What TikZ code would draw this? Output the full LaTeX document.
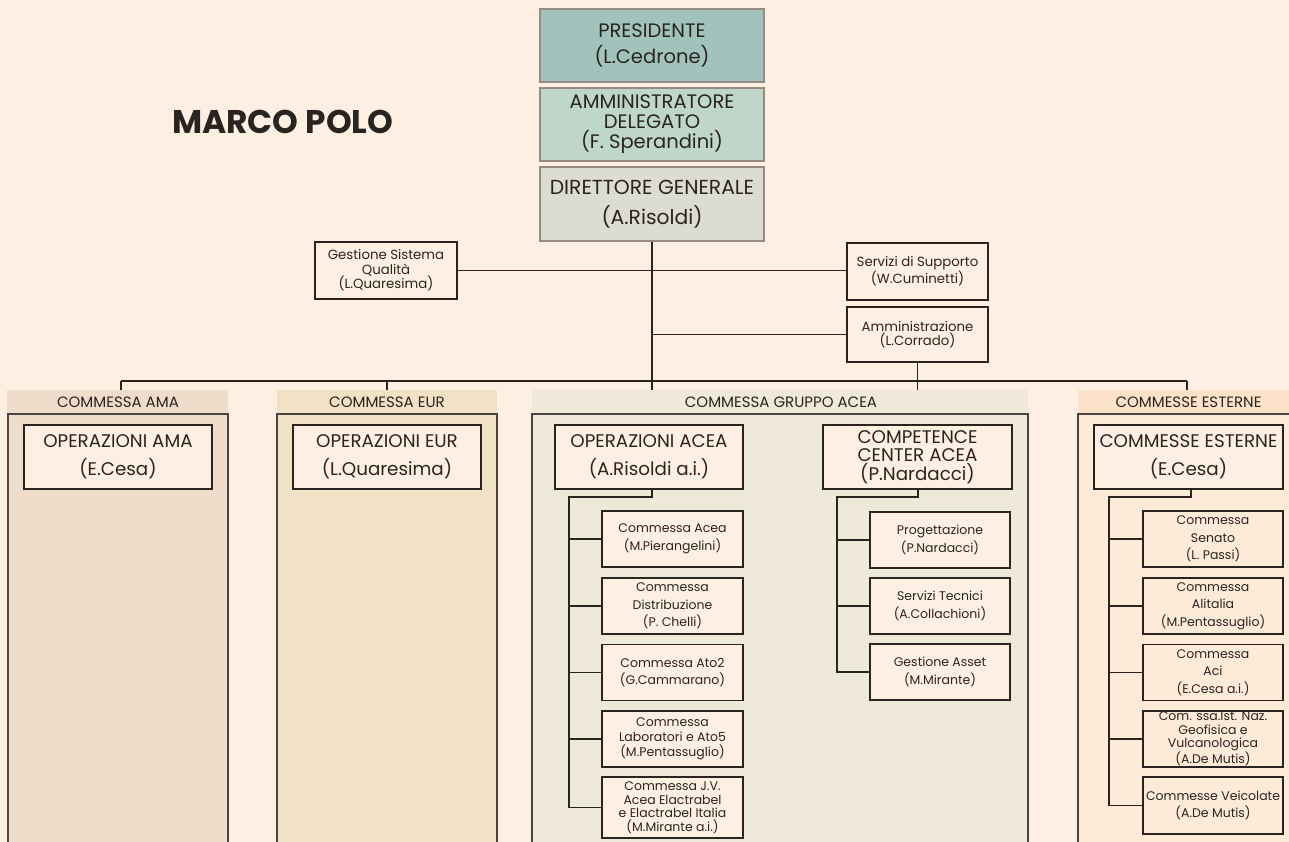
\documentclass[tikz,border=0pt]{standalone}
\usepackage{fontspec}
\setmainfont{Poppins}
\definecolor{bg}{HTML}{FDF0E2}
\definecolor{ink}{HTML}{2A2421}
\definecolor{topline}{HTML}{958B83}
\definecolor{presfill}{HTML}{A2C3BC}
\definecolor{adfill}{HTML}{BFD6CB}
\definecolor{dgfill}{HTML}{DDDCD2}
\definecolor{amafill}{HTML}{EFDCCA}
\definecolor{eurfill}{HTML}{F1E2C6}
\definecolor{aceafill}{HTML}{EFE9DA}
\definecolor{esthead}{HTML}{FCE2C8}
\definecolor{estfill}{HTML}{FDEBD8}
\begin{document}
\begin{tikzpicture}[x=1pt,y=-1pt,
  topbox/.style={draw=topline, line width=1.5pt, minimum width=224pt, minimum height=73pt, inner sep=0pt, align=center, text=ink, font=\fontsize{19.5}{26}\selectfont},
  staff/.style={draw=ink, line width=1.3pt, fill=bg, minimum width=141pt, minimum height=57pt, inner sep=0pt, align=center, text=ink, font=\fontsize{13.3}{14.5}\selectfont},
  colhead/.style={inner sep=0pt, minimum height=24pt, text=ink, font=\fontsize{15}{15}\selectfont},
  mainbox/.style={draw=ink, line width=1.3pt, fill=bg, minimum width=188pt, minimum height=64pt, inner sep=0pt, align=center, text=ink, font=\fontsize{18.3}{28}\selectfont},
  subbox/.style={draw=ink, line width=1.3pt, fill=bg, minimum width=141pt, minimum height=56pt, inner sep=0pt, align=center, text=ink, font=\fontsize{12.5}{17.5}\selectfont},
  wire/.style={draw=ink, line width=1.3pt},
  frame/.style={draw=ink!85, line width=1.5pt}]
\useasboundingbox (0,0) rectangle (1289,842);
\fill[bg] (0,0) rectangle (1289,842);

% title
\node[anchor=base west, inner sep=0pt, text=ink, font=\fontsize{32.8}{33}\bfseries] (title) at (172,134) {MARCO POLO};

% top boxes
\node[topbox, fill=presfill] (Pres) at (652,45.5) {PRESIDENTE\\(L.Cedrone)};
\node[topbox, fill=adfill, font=\fontsize{19.5}{20}\selectfont] (AD) at (652,124.5) {AMMINISTRATORE\\DELEGATO\\(F. Sperandini)};
\node[topbox, fill=dgfill, minimum height=74pt, font=\fontsize{20.3}{30}\selectfont] (DG) at (652,204) {DIRETTORE GENERALE\\(A.Risoldi)};

% staff
\node[staff, minimum width=142pt] (GSQ) at (386,270.5) {Gestione Sistema\\Qualità\\(L.Quaresima)};
\node[staff] (SdS) at (917.5,271.5) {Servizi di Supporto\\(W.Cuminetti)};
\node[staff, minimum height=55pt] (Amm) at (917.5,334.5) {Amministrazione\\(L.Corrado)};

% column panels
\fill[amafill] (7,390) rectangle (228,842);
\fill[eurfill] (277,390) rectangle (497,842);
\fill[aceafill] (532,390) rectangle (1028,842);
\fill[esthead] (1078,390) rectangle (1289,414);
\fill[estfill] (1078,414) rectangle (1289,842);
\draw[frame] (8,842) -- (8,414) -- (228,414) -- (228,842);
\draw[frame] (277,842) -- (277,414) -- (497,414) -- (497,842);
\draw[frame] (532,842) -- (532,414) -- (1028,414) -- (1028,842);
\draw[frame] (1078,842) -- (1078,414) -- (1292,414);

\node[colhead] (hAMA) at (118,402) {COMMESSA AMA};
\node[colhead] (hEUR) at (387,402) {COMMESSA EUR};
\node[colhead] (hACEA) at (781,402) {COMMESSA GRUPPO ACEA};
\node[colhead] (hCE) at (1188.5,402) {COMMESSE ESTERNE};

% main boxes
\node[mainbox] (OPAMA) at (118,457) {OPERAZIONI AMA\\(E.Cesa)};
\node[mainbox] (OPEUR) at (387,457) {OPERAZIONI EUR\\(L.Quaresima)};
\node[mainbox] (OPACEA) at (649,457) {OPERAZIONI ACEA\\(A.Risoldi a.i.)};
\node[mainbox, minimum width=189pt, font=\fontsize{18.3}{18.5}\selectfont] (CC) at (917.5,457) {COMPETENCE\\CENTER ACEA\\(P.Nardacci)};
\node[mainbox, minimum width=189pt] (CE) at (1188.5,457) {COMMESSE ESTERNE\\(E.Cesa)};

% ACEA operations
\node[subbox] (a1) at (672.5,539) {Commessa Acea\\(M.Pierangelini)};
\node[subbox] (a2) at (672.5,606) {Commessa\\Distribuzione\\(P. Chelli)};
\node[subbox] (a3) at (672.5,672.5) {Commessa Ato2\\(G.Cammarano)};
\node[subbox, font=\fontsize{12.5}{15}\selectfont] (a4) at (672.5,739) {Commessa\\Laboratori e Ato5\\(M.Pentassuglio)};
\node[subbox, minimum height=61pt, font=\fontsize{12.5}{13.5}\selectfont] (a5) at (672.5,807.5) {Commessa J.V.\\Acea Elactrabel\\e Elactrabel Italia\\(M.Mirante a.i.)};

% competence center
\node[subbox, minimum width=140pt] (c1) at (940,540) {Progettazione\\(P.Nardacci)};
\node[subbox, minimum width=140pt] (c2) at (940,606) {Servizi Tecnici\\(A.Collachioni)};
\node[subbox, minimum width=140pt] (c3) at (940,672) {Gestione Asset\\(M.Mirante)};

% external
\node[subbox, fill=estfill, minimum width=140pt] (e1) at (1213,539) {Commessa\\Senato\\(L. Passi)};
\node[subbox, fill=estfill, minimum width=140pt] (e2) at (1213,606) {Commessa\\Alitalia\\(M.Pentassuglio)};
\node[subbox, fill=estfill, minimum width=140pt] (e3) at (1213,672.5) {Commessa\\Aci\\(E.Cesa a.i.)};
\node[subbox, fill=estfill, minimum width=140pt, font=\fontsize{12.5}{13.5}\selectfont] (e4) at (1213,739) {Com. ssa.Ist. Naz.\\Geofisica e\\Vulcanologica\\(A.De Mutis)};
\node[subbox, fill=estfill, minimum width=140pt, minimum height=57pt] (e5) at (1213,805.5) {Commesse Veicolate\\(A.De Mutis)};

% connectors top
\coordinate (busL) at (121,381);
\coordinate (busR) at (1187,381);
\draw[wire] (busL) -- (busR);
\draw[wire] (DG.south) -- (DG.south |- hACEA.north);
\draw[wire] (GSQ.east) -- (GSQ.east -| SdS.west);
\draw[wire] (Amm.west) -- (Amm.west -| DG.south);
\draw[wire] (Amm.south) -- (Amm.south |- hACEA.north);
\draw[wire] (busL) -- (busL |- hAMA.north);
\draw[wire] (hEUR.north |- busL) -- (hEUR.north);
\draw[wire] (busR) -- (busR |- hCE.north);

% ACEA tree
\coordinate (ta) at (569,497);
\draw[wire] ([xshift=3pt]OPACEA.south) |- (ta) |- (a5.west);
\foreach \n in {a1,a2,a3,a4} \draw[wire] (ta |- \n.west) -- (\n.west);
% CC tree
\coordinate (tc) at (837,497);
\draw[wire] ([xshift=0.5pt]CC.south) |- (tc) |- (c3.west);
\foreach \n in {c1,c2} \draw[wire] (tc |- \n.west) -- (\n.west);
% external tree
\coordinate (te) at (1109,497);
\draw[wire] ([xshift=2.5pt]CE.south) |- (te) |- (e5.west);
\foreach \n in {e1,e2,e3,e4} \draw[wire] (te |- \n.west) -- (\n.west);
\end{tikzpicture}
\end{document}
